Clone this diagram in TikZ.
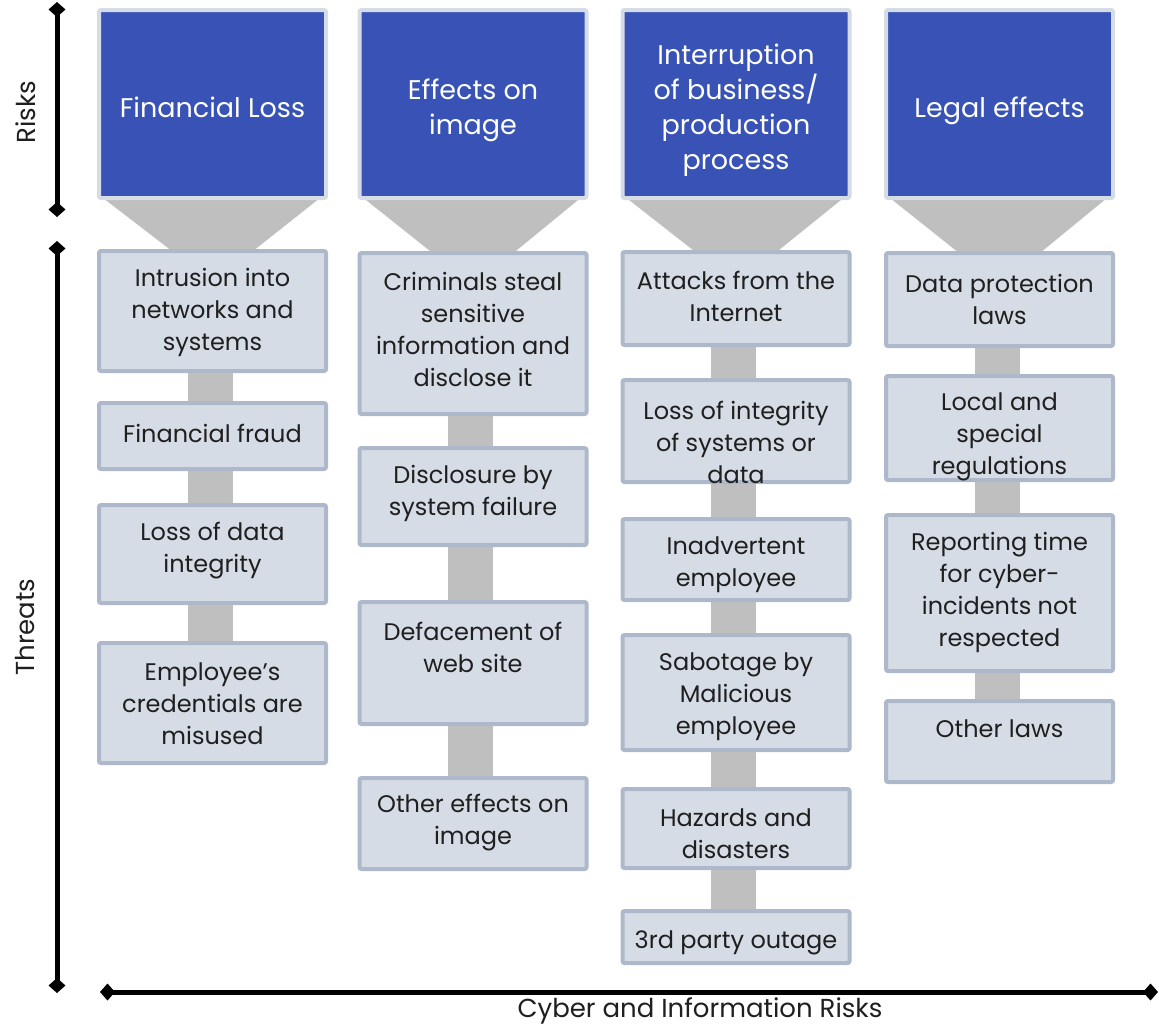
\documentclass[tikz,border=0pt]{standalone}
\usepackage{fontspec}
\setmainfont{Poppins}
\usetikzlibrary{arrows.meta,backgrounds,calc}
\definecolor{hdrblue}{HTML}{3853B5}
\definecolor{hdrline}{HTML}{D6DCE5}
\definecolor{tfill}{HTML}{D6DCE5}
\definecolor{tline}{HTML}{ADB9CA}
\definecolor{barcol}{HTML}{BFBFBF}
\tikzset{
 hdr/.style={draw=hdrline, fill=hdrblue, line width=4pt, rounded corners=2pt, minimum width=227pt, minimum height=188pt, inner sep=0pt, outer sep=0pt},
 tbox/.style={draw=tline, fill=tfill, line width=4pt, rounded corners=2pt, minimum width=227pt, inner sep=0pt, outer sep=0pt},
 htext/.style={text=white, align=center, font=\fontsize{27}{35}\selectfont},
 ttext/.style={text=black!88, align=center, font=\fontsize{24}{32}\selectfont},
 bar/.style={fill=barcol},
 axis/.style={line width=5pt, {Diamond[length=15pt,width=17pt]}-{Diamond[length=15pt,width=17pt]}},
 axlabel/.style={text=black!88, font=\fontsize{26}{30}\selectfont},
}
\newcommand\tb[6]{%
 \node[tbox, minimum height={#4-#3-4}] (#1) at (#2,{(#3+#4)/2}) {};
 \node[ttext] (#1t) at (#2,{#5+2}) {#6};}
\newcommand\hb[4]{%
 \node[hdr] (#1) at (#2,104) {};
 \node[htext] (#1t) at (#2,#3) {#4};}
\newcommand\funnel[2]{%
 \fill[bar] ($(#1.south west)+(4,0)$) -- ($(#1.south east)+(-6,0)$) -- ($(#2.north)+(38,2)$) -- ($(#2.north)+(-38,2)$) -- cycle;}
\newcommand\link[2]{%
 \fill[bar] ($(#1.south)+(-25,-2)$) rectangle ($(#2.north)+(20,2)$);}
\begin{document}
\begin{tikzpicture}[x=1pt,y=-1pt]
\useasboundingbox (0,0) rectangle (1159,1026);
% headers
\hb{h1}{212.5}{107}{Financial Loss}
\hb{h2}{473}{110}{Effects on\\image}
\hb{h3}{736}{110.5}{Interruption\\of business/\\production\\process}
\hb{h4}{999.5}{111}{Legal effects}
% column 1
\tb{b1a}{212.5}{249}{373}{310}{Intrusion into\\networks and\\systems}
\tb{b1b}{212.5}{401}{471}{431}{Financial fraud}
\tb{b1c}{212.5}{503}{605}{549}{Loss of data\\integrity}
\tb{b1d}{212.5}{641}{765}{702}{Employee’s\\credentials are\\misused}
% column 2
\tb{b2a}{473}{251}{416}{327}{Criminals steal\\sensitive\\information and\\disclose it}
\tb{b2b}{473}{446}{547}{491}{Disclosure by\\system failure}
\tb{b2c}{473}{600}{726}{645}{Defacement of\\web site}
\tb{b2d}{473}{776}{871}{821}{Other effects on\\image}
% column 3
\tb{b3a}{736}{250}{347}{294}{Attacks from the\\Internet}
\tb{b3b}{736}{378}{484}{440}{Loss of integrity\\of systems or\\data}
\tb{b3c}{736}{517}{602}{563}{Inadvertent\\employee}
\tb{b3d}{736}{633}{752}{695}{Sabotage by\\Malicious\\employee}
\tb{b3e}{736}{787}{870}{832}{Hazards and\\disasters}
\tb{b3f}{736}{909}{965}{941}{3rd party outage}
% column 4
\tb{b4a}{999.5}{251}{348}{297}{Data protection\\laws}
\tb{b4b}{999.5}{374}{482}{435}{Local and\\special\\regulations}
\tb{b4c}{999.5}{513}{673}{590}{Reporting time\\for cyber-\\incidents not\\respected}
\tb{b4d}{999.5}{699}{784}{727}{Other laws}
\begin{scope}[on background layer]
 \funnel{h1}{b1a}\funnel{h2}{b2a}\funnel{h3}{b3a}\funnel{h4}{b4a}
 \link{b1a}{b1b}\link{b1b}{b1c}\link{b1c}{b1d}
 \link{b2a}{b2b}\link{b2b}{b2c}\link{b2c}{b2d}
 \link{b3a}{b3b}\link{b3b}{b3c}\link{b3c}{b3d}\link{b3d}{b3e}\link{b3e}{b3f}
 \link{b4a}{b4b}\link{b4b}{b4c}\link{b4c}{b4d}
\end{scope}
% axes
\coordinate (ra) at (57,2); \coordinate (rb) at (57,217);
\coordinate (ta) at (57,241); \coordinate (tb) at (57,993);
\coordinate (ca) at (100,992); \coordinate (cb) at (1158,992);
\draw[axis] (ra) -- (rb);
\draw[axis] (ta) -- (tb);
\draw[axis] (ca) -- (cb);
\node[axlabel, rotate=90] (lrisk) at (26,112) {Risks};
\node[axlabel, rotate=90] (lthreat) at (25,627) {Threats};
\node[axlabel] (lcyber) at (700,1011) {Cyber and Information Risks};
\end{tikzpicture}
\end{document}
